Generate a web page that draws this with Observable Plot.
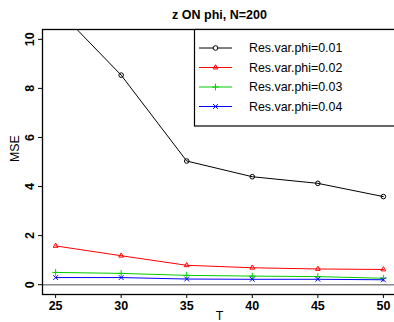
<!DOCTYPE html>
<html><head><meta charset="utf-8">
<script src="https://cdn.jsdelivr.net/npm/d3@7"></script>
<script src="https://cdn.jsdelivr.net/npm/@observablehq/plot@0.6"></script>
<style>
body{margin:0;background:#fff;}
#wrap{position:relative;width:394px;height:322px;overflow:hidden;font-family:"Liberation Sans",Arial,sans-serif;background:#fff;}
#wrap svg{display:block;}
#legend{position:absolute;left:0;top:0;pointer-events:none;}
</style></head><body><div id="wrap"></div>
<script>
const title = "z ON phi, N=200";
const xLabel = "T";
const yLabel = "MSE";
const T = [25, 30, 35, 40, 45, 50];
const mse001 = [11.3, 8.54, 5.04, 4.40, 4.13, 3.59];
const mse002 = [1.58, 1.18, 0.79, 0.69, 0.64, 0.62];
const mse003 = [0.50, 0.46, 0.38, 0.35, 0.33, 0.26];
const mse004 = [0.29, 0.29, 0.23, 0.22, 0.22, 0.20];
const seriesNames = ["Res.var.phi=0.01", "Res.var.phi=0.02", "Res.var.phi=0.03", "Res.var.phi=0.04"];
const seriesColors = ["#000000", "#FF0000", "#00CD00", "#0000FF"];
const seriesSymbols = ["circle", "triangle2", "plus", "times"];
const xTicks = [25, 30, 35, 40, 45, 50];
const yTicks = [0, 2, 4, 6, 8, 10];

const allSeries = [mse001, mse002, mse003, mse004];
const rows = allSeries.flatMap((vals, i) => vals.map((v, j) => ({T: T[j], mse: v, series: seriesNames[i]})));

const font = '"Liberation Sans", Arial, sans-serif';

const chart = Plot.plot({
  width: 394,
  height: 322,
  marginLeft: 42,
  marginRight: -2,
  marginTop: 29,
  marginBottom: 28,
  style: {fontFamily: font, fontSize: "12px", background: "#fff", overflow: "visible"},
  x: {domain: [24, 51]},
  y: {domain: [-0.4, 10.4]},
  color: {domain: seriesNames, range: seriesColors},
  symbol: {domain: seriesNames, range: seriesSymbols},
  marks: [
    Plot.ruleY([0], {stroke: "#888", strokeWidth: 1.5}),
    Plot.line(rows, {x: "T", y: "mse", z: "series", stroke: "series", strokeWidth: 1, clip: true}),
    Plot.dot(rows, {x: "T", y: "mse", stroke: "series", symbol: "series", r: 2.3, fill: "none", strokeWidth: 1, clip: true}),
    Plot.frame({stroke: "#000", strokeWidth: 1.3}),
    Plot.axisX({ticks: xTicks, tickSize: 4, tickPadding: 2.5, fontWeight: "bold", fontSize: 12.5, label: null, stroke: "#000"}),
    Plot.axisY({ticks: yTicks, tickSize: 4, tickPadding: 4.5, tickRotate: -90, fontWeight: "bold", fontSize: 12.5, label: null, stroke: "#000"}),
    Plot.text([title], {frameAnchor: "top", dy: -11, lineAnchor: "bottom", fontWeight: "bold", fontSize: 12.5}),
    Plot.text([yLabel], {frameAnchor: "left", dx: -23.5, rotate: -90, lineAnchor: "bottom", fontSize: 12.4}),
    Plot.text([xLabel], {frameAnchor: "bottom", dy: 25.5, lineAnchor: "bottom", fontSize: 12.4})
  ]
});
const wrap = document.getElementById("wrap");
wrap.appendChild(chart);

// legend box (inside plot area, top-right)
const lg = d3.select(wrap).append("svg").attr("id", "legend").attr("width", 394).attr("height", 322);
const bx = 194.5, by = 29.5;
lg.append("rect").attr("x", bx).attr("y", by).attr("width", 260).attr("height", 96.5)
  .attr("fill", "#fff").attr("stroke", "#000").attr("stroke-width", 1.2);
const symMap = {circle: d3.symbolCircle, triangle2: d3.symbolTriangle2, plus: d3.symbolPlus, times: d3.symbolTimes};
seriesNames.forEach((name, i) => {
  const yy = 48 + i * 19.5;
  const g = lg.append("g");
  g.append("line").attr("x1", 199).attr("x2", 232).attr("y1", yy).attr("y2", yy)
    .attr("stroke", seriesColors[i]).attr("stroke-width", 1);
  const r = 2.3;
  g.append("path").attr("d", d3.symbol(symMap[seriesSymbols[i]], Math.PI * r * r)())
    .attr("transform", `translate(215.5,${yy})`).attr("fill", i === 0 ? "#fff" : "none")
    .attr("stroke", seriesColors[i]).attr("stroke-width", 1);
  g.append("text").attr("x", 249).attr("y", yy).attr("dy", "0.35em")
    .attr("font-family", font).attr("font-size", 12.4).attr("fill", "#000").text(name);
});
</script></body></html>
